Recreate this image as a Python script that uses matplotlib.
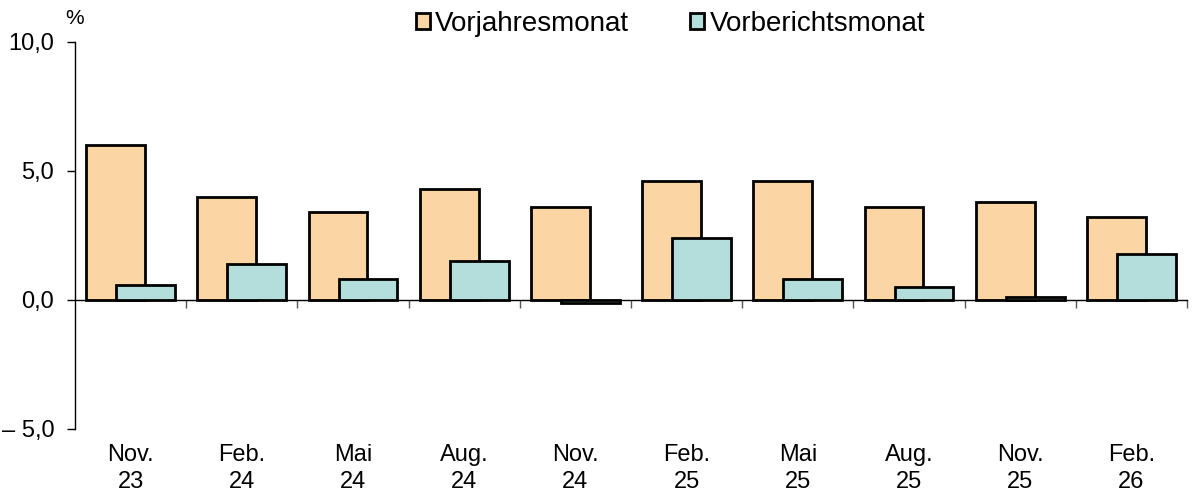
import matplotlib
matplotlib.use("Agg")
import matplotlib.pyplot as plt
import numpy as np
from matplotlib.transforms import blended_transform_factory
from matplotlib.patches import Patch

plt.rcParams['font.family'] = ['Liberation Sans', 'DejaVu Sans']

categories = ["Nov.\n23", "Feb.\n24", "Mai\n24", "Aug.\n24", "Nov.\n24",
              "Feb.\n25", "Mai\n25", "Aug.\n25", "Nov.\n25", "Feb.\n26"]
vorjahr = [6.0, 4.0, 3.4, 4.3, 3.6, 4.6, 4.6, 3.6, 3.8, 3.2]
vorbericht = [0.6, 1.4, 0.8, 1.5, -0.1, 2.4, 0.8, 0.5, 0.1, 1.8]
yticks = [-5.0, 0.0, 5.0, 10.0]
ytick_labels = ["\u2013 5,0", "0,0", "5,0", "10,0"]

c_orange = "#FCD5A4"
c_teal = "#B4DEDC"

fig = plt.figure(figsize=(11.92, 4.91), dpi=100)
ax = fig.add_axes([0.0629, 0.1263, 0.9329, 0.7882])

x = np.arange(len(categories))
w = 0.53
off = 0.135
ax.bar(x - off, vorjahr, w, color=c_orange, edgecolor="black", linewidth=2.0, zorder=2)
ax.bar(x + off, vorbericht, w, color=c_teal, edgecolor="black", linewidth=2.0, zorder=3)

ax.set_xlim(-0.5, len(categories) - 0.5)
ax.set_ylim(-5, 10)
ax.set_yticks(yticks)
ax.set_yticklabels(ytick_labels, fontsize=17)
ax.tick_params(axis="y", direction="out", length=6, width=1, pad=9)

ax.spines["top"].set_visible(False)
ax.spines["right"].set_visible(False)
ax.spines["bottom"].set_position(("data", 0))
ax.spines["left"].set_linewidth(1)
ax.spines["bottom"].set_linewidth(1)

ax.set_xticks(np.arange(0.5, len(categories), 1.0))
ax.set_xticklabels([])
ax.tick_params(axis="x", direction="out", length=6, width=1, color="#555555")

trans = blended_transform_factory(ax.transData, ax.transAxes)
for xi, lab in zip(x, categories):
    ax.text(xi, -0.038, lab, transform=trans, ha="center", va="top",
            fontsize=17, linespacing=1.3)

ax.text(0.0, 1.035, "%", transform=ax.transAxes, ha="center", va="bottom", fontsize=15)

handles = [Patch(facecolor=c_orange, edgecolor="black", linewidth=2.0, label="Vorjahresmonat"),
           Patch(facecolor=c_teal, edgecolor="black", linewidth=2.0, label="Vorberichtsmonat")]
fig.legend(handles=handles, loc="center", bbox_to_anchor=(0.5625, 0.952), ncol=2,
           frameon=False, fontsize=20, handlelength=0.5, handleheight=0.5,
           handletextpad=0.2, columnspacing=2.2, borderpad=0)

fig.savefig("out.png", dpi=100)
